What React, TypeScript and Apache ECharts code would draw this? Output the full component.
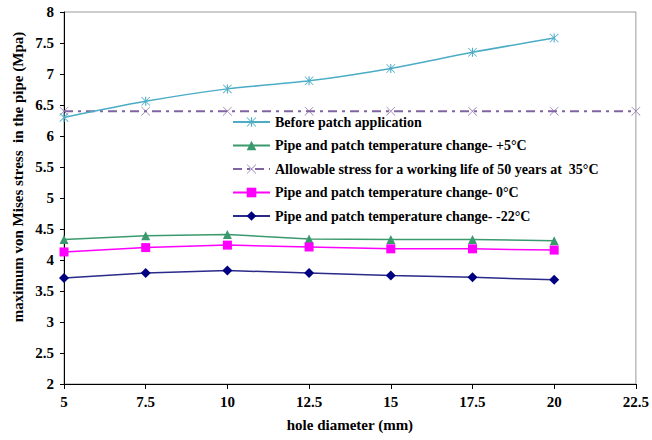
import React, { useEffect, useRef } from "react";
import * as echarts from "echarts";

const holeDiameters = [5, 7.5, 10, 12.5, 15, 17.5, 20];
const allowableX = [5, 7.5, 10, 12.5, 15, 17.5, 20, 22.5];
const beforePatch = [6.3, 6.56, 6.76, 6.89, 7.09, 7.35, 7.58];
const allowable = [6.4, 6.4, 6.4, 6.4, 6.4, 6.4, 6.4, 6.4];
const plus5 = [4.33, 4.39, 4.41, 4.34, 4.33, 4.33, 4.31];
const zero = [4.13, 4.2, 4.24, 4.21, 4.18, 4.18, 4.16];
const minus22 = [3.71, 3.79, 3.83, 3.79, 3.75, 3.72, 3.68];

const seriesNames = [
  "Before patch application",
  "Pipe and patch temperature change- +5°C",
  "Allowable stress for a working life of 50 years at  35°C",
  "Pipe and patch temperature change- 0°C",
  "Pipe and patch temperature change- -22°C",
];

const FONT = "Liberation Serif";

const ASTERISK =
  "path://M0,1.2 L8.8,10 L10,8.8 L1.2,0 L10,-8.8 L8.8,-10 L0,-1.2 L-8.8,-10 L-10,-8.8 L-1.2,0 L-10,8.8 L-8.8,10Z M-1.2,-10 L-1.2,10 L1.2,10 L1.2,-10Z";
const CROSS =
  "path://M0,0.8 L9.2,10 L10,9.2 L0.8,0 L10,-9.2 L9.2,-10 L0,-0.8 L-9.2,-10 L-10,-9.2 L-0.8,0 L-10,9.2 L-9.2,10Z";

const zip = (xs: number[], ys: number[]) => ys.map((y, i) => [xs[i], y]);

export default function App() {
  const ref = useRef<HTMLDivElement>(null);
  useEffect(() => {
    if (!ref.current) return;
    const chart = echarts.init(ref.current, null, { renderer: "svg" });
    chart.setOption({
      animation: false,
      backgroundColor: "#ffffff",
      grid: {
        left: 64,
        right: 15,
        top: 12,
        bottom: 56,
        show: true,
        borderColor: "#9a9a9a",
        borderWidth: 1,
      },
      legend: {
        orient: "vertical",
        left: 227,
        top: 110,
        itemWidth: 37,
        itemHeight: 12,
        itemGap: 9.5,
        textStyle: { fontFamily: FONT, fontWeight: "bold", fontSize: 14, color: "#000" },
        data: [
          seriesNames[0],
          seriesNames[1],
          seriesNames[2],
          seriesNames[3],
          seriesNames[4],
        ],
      },
      xAxis: {
        type: "value",
        min: 5,
        max: 22.5,
        interval: 2.5,
        name: "hole diameter (mm)",
        nameLocation: "middle",
        nameGap: 33,
        nameTextStyle: { fontFamily: FONT, fontWeight: "bold", fontSize: 15, color: "#000" },
        axisLine: { lineStyle: { color: "#000", width: 1 } },
        axisTick: { show: true, length: 5, lineStyle: { color: "#000" } },
        axisLabel: { fontFamily: FONT, fontWeight: "bold", fontSize: 15, color: "#000", margin: 10 },
        splitLine: { show: false },
      },
      yAxis: {
        type: "value",
        min: 2,
        max: 8,
        interval: 0.5,
        axisLine: { show: true, lineStyle: { color: "#000", width: 1 } },
        axisTick: { show: true, length: 4, lineStyle: { color: "#000" } },
        axisLabel: { fontFamily: FONT, fontWeight: "bold", fontSize: 15, color: "#000", margin: 10 },
        splitLine: { show: false },
      },
      graphic: [
        {
          type: "text",
          x: 18,
          y: 177,
          rotation: Math.PI / 2,
          style: {
            text: "maximum von Mises stress  in the pipe (Mpa)",
            fontFamily: FONT,
            fontWeight: "bold",
            fontSize: 15,
            fill: "#000",
            textAlign: "center",
            textVerticalAlign: "middle",
          },
        },
      ],
      series: [
        {
          name: seriesNames[0],
          type: "line",
          data: zip(holeDiameters, beforePatch),
          smooth: 0.3,
          symbol: ASTERISK,
          symbolSize: 9,
          color: "#4BACC6",
          lineStyle: { color: "#4BACC6", width: 1.5 },
          z: 5,
        },
        {
          name: seriesNames[1],
          type: "line",
          data: zip(holeDiameters, plus5),
          symbol: "triangle",
          symbolSize: 9,
          color: "#3A9A6E",
          lineStyle: { color: "#3A9A6E", width: 1.5 },
        },
        {
          name: seriesNames[2],
          type: "line",
          data: zip(allowableX, allowable),
          symbol: CROSS,
          symbolSize: 9,
          color: "#8064A2",
          lineStyle: { color: "#8064A2", width: 2, type: [9, 5, 3, 5] },
        },
        {
          name: seriesNames[3],
          type: "line",
          data: zip(holeDiameters, zero),
          symbol: "rect",
          symbolSize: 9,
          color: "#FF00FF",
          lineStyle: { color: "#FF00FF", width: 1.5 },
        },
        {
          name: seriesNames[4],
          type: "line",
          data: zip(holeDiameters, minus22),
          symbol: "diamond",
          symbolSize: 10,
          color: "#000080",
          lineStyle: { color: "#2a2a8a", width: 1.5 },
        },
      ],
    });
    return () => chart.dispose();
  }, []);
  return (
    <div
      ref={ref}
      style={{ position: "fixed", left: 0, top: 0, width: 652, height: 440, background: "#fff" }}
    />
  );
}
